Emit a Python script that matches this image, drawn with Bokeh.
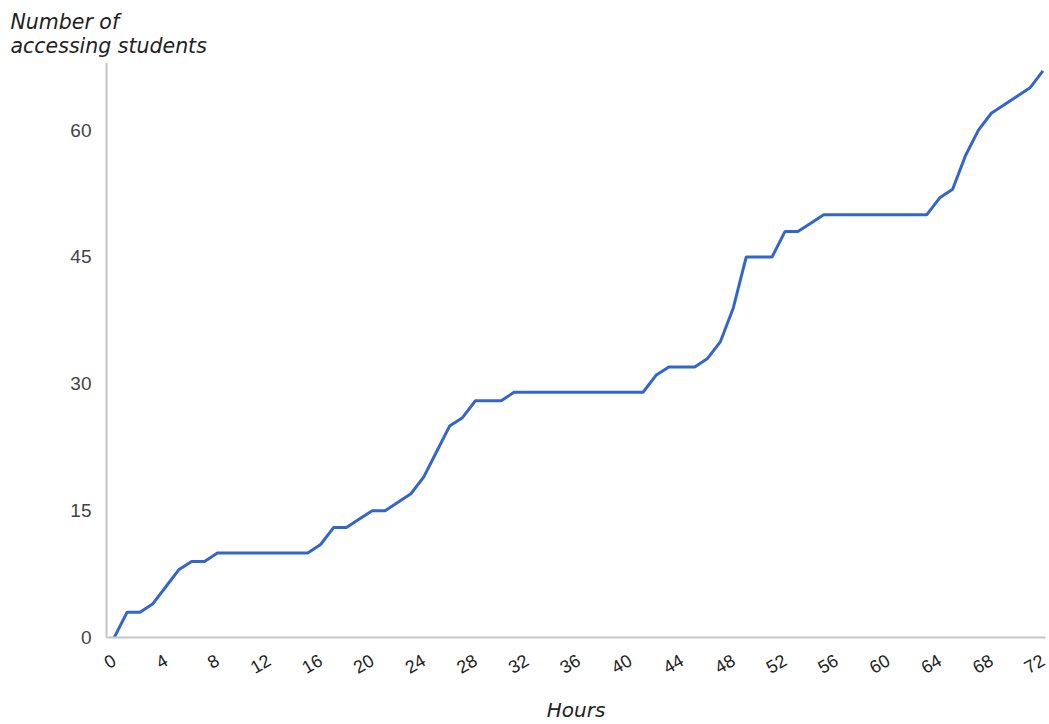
import math
from bokeh.plotting import figure
from bokeh.models import FixedTicker, Range1d, Title
from bokeh.embed import file_html
from bokeh.resources import INLINE

hours = list(range(0, 73))
students = [0, 3, 3, 4, 6, 8, 9, 9, 10, 10,
            10, 10, 10, 10, 10, 10, 11, 13, 13, 14,
            15, 15, 16, 17, 19, 22, 25, 26, 28, 28,
            28, 29, 29, 29, 29, 29, 29, 29, 29, 29,
            29, 29, 31, 32, 32, 32, 33, 35, 39, 45,
            45, 45, 48, 48, 49, 50, 50, 50, 50, 50,
            50, 50, 50, 50, 52, 53, 57, 60, 62, 63,
            64, 65, 67]
x_ticks = list(range(0, 73, 4))
y_ticks = [0, 15, 30, 45, 60]
x_title = "Hours"
y_title = "Number of\naccessing students"

p = figure(width=1049, height=724, output_backend="svg", toolbar_location=None,
           x_range=Range1d(-0.6, 72.2), y_range=Range1d(0, 68),
           min_border_left=106, min_border_right=4, min_border_top=62,
           min_border_bottom=87)
p.outline_line_color = None
p.xgrid.grid_line_color = None
p.ygrid.grid_line_color = None
p.background_fill_color = "white"
p.border_fill_color = "white"

p.line(hours, students, line_color="#3366cc", line_width=3)

t = Title(text=y_title, align="left", offset=-96,
          text_font="DejaVu Sans", text_font_style="italic",
          text_font_size="20.5px", text_color="#222222", standoff=10)
p.add_layout(t, "above")

xa = p.xaxis[0]
xa.ticker = FixedTicker(ticks=x_ticks)
xa.major_label_orientation = math.pi / 6
xa.major_label_text_font = "Liberation Sans"
xa.major_label_text_font_size = "18px"
xa.major_label_text_color = "#222222"
xa.major_label_standoff = 15
xa.major_tick_line_color = None
xa.minor_tick_line_color = None
xa.axis_line_color = "#c6c6c6"
xa.axis_line_width = 2
xa.axis_label = x_title
xa.axis_label_text_font = "DejaVu Sans"
xa.axis_label_text_font_style = "italic"
xa.axis_label_text_font_size = "20px"
xa.axis_label_text_color = "#222222"
xa.axis_label_standoff = 15

ya = p.yaxis[0]
ya.ticker = FixedTicker(ticks=y_ticks)
ya.major_label_text_font = "Liberation Sans"
ya.major_label_text_font_size = "19px"
ya.major_label_text_color = "#444444"
ya.major_label_standoff = 9
ya.major_tick_line_color = None
ya.minor_tick_line_color = None
ya.axis_line_color = "#c6c6c6"
ya.axis_line_width = 2

open("out.html", "w").write(file_html(p, INLINE))
